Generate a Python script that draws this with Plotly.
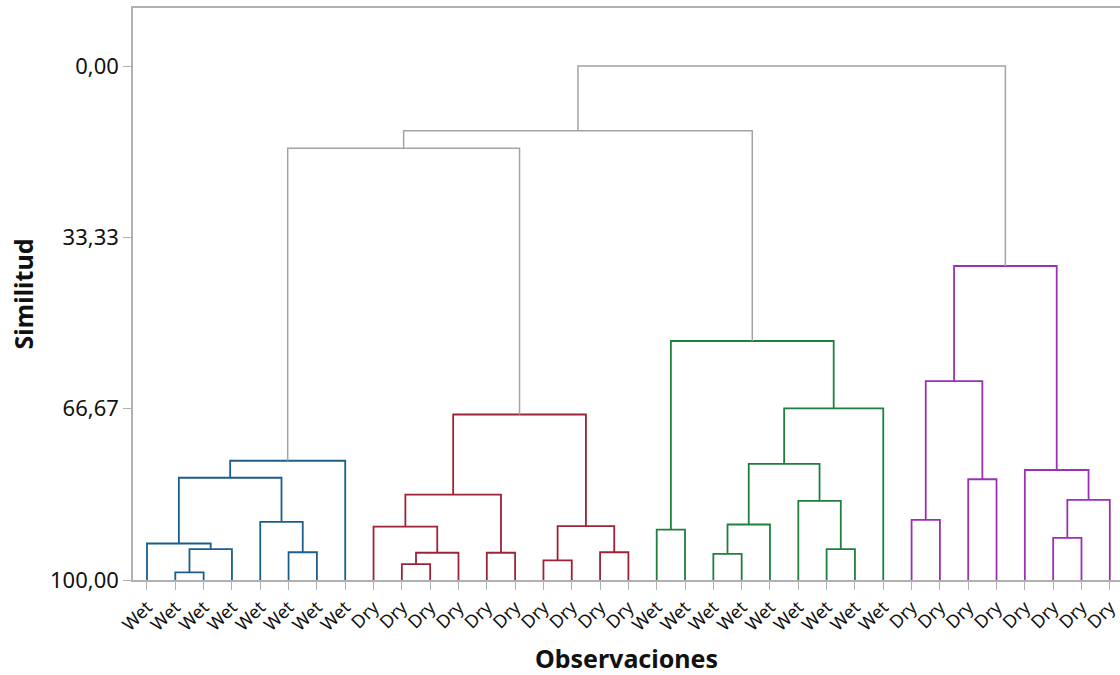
import plotly.graph_objects as go

# Leaf labels, in dendrogram order
leaf_labels = (
    ["Wet"] * 8
    + ["Dry"] * 10
    + ["Wet"] * 9
    + ["Dry"] * 8
)

# Final cluster of each leaf (4 clusters)
leaf_cluster = [0] * 8 + [1] * 10 + [2] * 9 + [3] * 8

# Linkage: each merge joins two nodes (leaf ids 0..34, merge ids 35..)
# at the given similarity level
merge_left = [
    1, 35, 0, 5, 4, 37, 40,
    9, 42, 8, 12, 44, 14, 16, 47, 46,
    18, 20, 52, 24, 23, 53, 56, 51,
    27, 29, 59, 32, 62, 31, 61,
    41, 66, 67,
]
merge_right = [
    2, 3, 36, 6, 38, 39, 7,
    10, 11, 43, 13, 45, 15, 17, 48, 49,
    19, 21, 22, 25, 54, 55, 26, 57,
    28, 30, 60, 33, 34, 63, 64,
    50, 58, 65,
]
merge_similarity = [
    98.5, 94.0, 92.9, 94.6, 88.7, 80.1, 76.8,
    96.9, 94.7, 89.6, 94.7, 83.4, 96.2, 94.6, 89.5, 67.8,
    90.2, 94.9, 89.2, 94.0, 84.6, 77.4, 66.6, 53.5,
    88.3, 80.4, 61.3, 91.8, 84.4, 78.6, 38.9,
    16.0, 12.6, 0.0,
]

y_ticks = [0.0, 33.33, 66.67, 100.0]
y_tick_text = ["0,00", "33,33", "66,67", "100,00"]

cluster_colors = ["#1b5e8c", "#9c2336", "#1f7f3e", "#9a30b4"]
link_gray = "#a3a3a3"

n_leaves = len(leaf_labels)

# Position, height and member leaves of every node
node_x = {i: float(i) for i in range(n_leaves)}
node_h = {i: 100.0 for i in range(n_leaves)}
node_members = {i: {i} for i in range(n_leaves)}

segments = {}  # color -> (xs, ys)
for k, (a, b, s) in enumerate(zip(merge_left, merge_right, merge_similarity)):
    nid = n_leaves + k
    xa, xb = node_x[a], node_x[b]
    ha, hb = node_h[a], node_h[b]
    members = node_members[a] | node_members[b]
    groups = {leaf_cluster[m] for m in members}
    color = cluster_colors[groups.pop()] if len(groups) == 1 else link_gray
    xs, ys = segments.setdefault(color, ([], []))
    xs += [xa, xa, xb, xb, None]
    ys += [ha, s, s, hb, None]
    node_x[nid] = (xa + xb) / 2
    node_h[nid] = s
    node_members[nid] = members

fig = go.Figure()
for color, (xs, ys) in segments.items():
    fig.add_trace(go.Scatter(
        x=xs, y=ys, mode="lines",
        line=dict(color=color, width=1.8 if color != link_gray else 1.5),
        hoverinfo="skip", showlegend=False,
    ))

font_family = "Noto Sans, Open Sans, sans-serif"

fig.update_layout(
    width=1120, height=675,
    margin=dict(l=133, r=0, t=8, b=95),
    paper_bgcolor="white", plot_bgcolor="white",
    font=dict(family=font_family, color="#111111"),
    xaxis=dict(
        range=[-0.494, 34.36],
        tickmode="array",
        tickvals=list(range(n_leaves)),
        ticktext=leaf_labels,
        tickangle=-45,
        ticklabeloverflow="allow",
        tickfont=dict(size=18, color="#111111"),
        ticks="outside", ticklen=8, tickwidth=1.2, tickcolor="#b0b0b0",
        showline=True, linecolor="#b0b0b0", linewidth=1.5, mirror=True,
        showgrid=False, zeroline=False,
        title=dict(text="<b>Observaciones</b>", font=dict(size=25), standoff=17),
    ),
    yaxis=dict(
        range=[100, -11.3],
        tickmode="array",
        tickvals=y_ticks,
        ticktext=y_tick_text,
        tickfont=dict(size=22, color="#111111"),
        ticks="outside", ticklen=8, tickwidth=1.2, tickcolor="#b0b0b0",
        showline=True, linecolor="#b0b0b0", linewidth=1.5,
        showgrid=False, zeroline=False,
        title=dict(text="<b>Similitud</b>", font=dict(size=25), standoff=9),
    ),
)

fig.write_html("out.html")
